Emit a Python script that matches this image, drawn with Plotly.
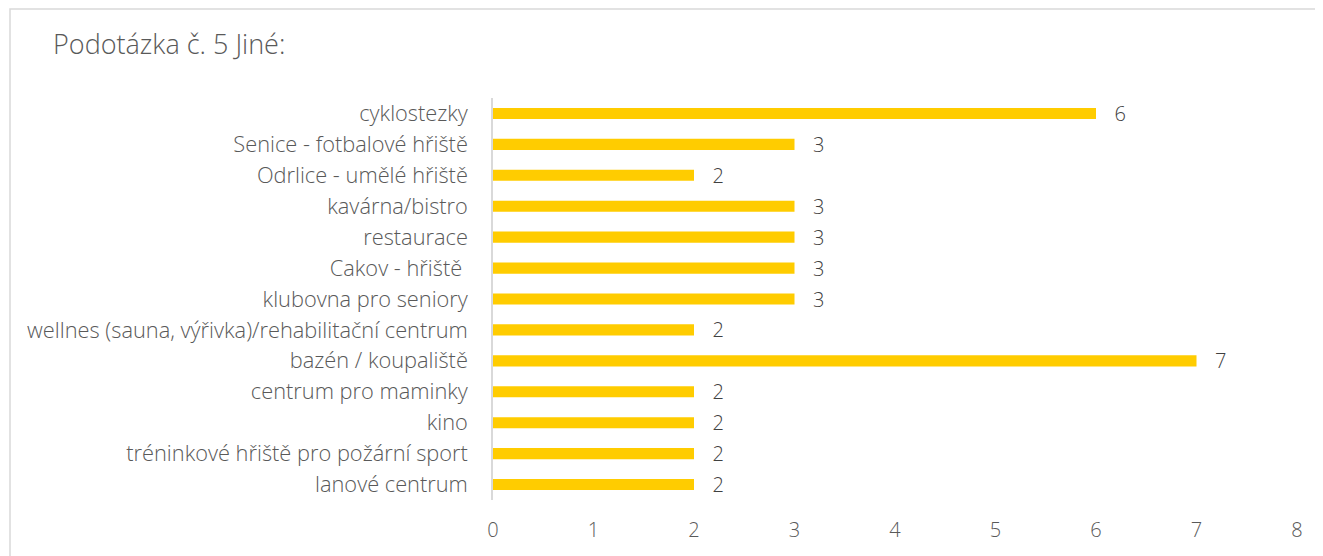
import plotly.graph_objects as go

# categories top -> bottom as shown
categories = [
    "cyklostezky",
    "Senice - fotbalové hřiště",
    "Odrlice - umělé hřiště",
    "kavárna/bistro",
    "restaurace",
    "Cakov - hřiště ",
    "klubovna pro seniory",
    "wellnes (sauna, výřivka)/rehabilitační centrum",
    "bazén / koupaliště",
    "centrum pro maminky",
    "kino",
    "tréninkové hřiště pro požární sport",
    "lanové centrum",
]
counts = [6, 3, 2, 3, 3, 3, 3, 2, 7, 2, 2, 2, 2]
x_ticks = [0, 1, 2, 3, 4, 5, 6, 7, 8]

FONT = "Open Sans"
W, H = 1323, 556
# page body has an 8px margin, so everything is shifted up/left by 8
OFF = 8
L, T = 493 - OFF, 98 - OFF
R = W - (1297 - OFF)
B = H - (500 - OFF)

fig = go.Figure()
fig.add_trace(go.Bar(
    x=counts, y=categories, orientation="h",
    marker=dict(color="#FFCC00", line=dict(width=0)),
    text=[f"   {v}" for v in counts], textposition="outside",
    constraintext="none",
    textfont=dict(size=20, color="#404040", family=FONT),
    cliponaxis=False,
))

pw, ph = W - L - R, H - T - B
def px(xp):
    return (xp - OFF - L) / pw
def py(yp):
    return (H - B - (yp - OFF)) / ph

# outer chart border
fig.add_shape(type="rect", xref="paper", yref="paper",
              x0=px(10), x1=px(1345), y0=py(600), y1=py(9),
              line=dict(color="#D9D9D9", width=1.5), fillcolor="rgba(0,0,0,0)")

fig.update_layout(
    width=W, height=H,
    margin=dict(l=L, r=R, t=T, b=B),
    paper_bgcolor="white", plot_bgcolor="white",
    bargap=0.64, showlegend=False,
    font=dict(family=FONT, size=21.8, color="#595959", weight=300),
    title=dict(text="Podotázka č. 5 Jiné:", x=(53 - OFF) / W, xanchor="left",
               y=1 - (45 - OFF) / H, yanchor="middle",
               font=dict(family=FONT, size=27, color="#595959", weight=300)),
)
fig.update_xaxes(range=[0, 8], tickvals=x_ticks, showgrid=False, zeroline=False,
                 showline=False, ticks="", ticklabelstandoff=16,
                 tickfont=dict(size=20, weight=300))
fig.update_yaxes(autorange="reversed", showgrid=False, zeroline=False,
                 showline=True, linecolor="#D9D9D9", linewidth=1.5,
                 ticks="", ticklabelstandoff=19, tickfont=dict(size=21.8, weight=300))

fig.write_html("out.html")
